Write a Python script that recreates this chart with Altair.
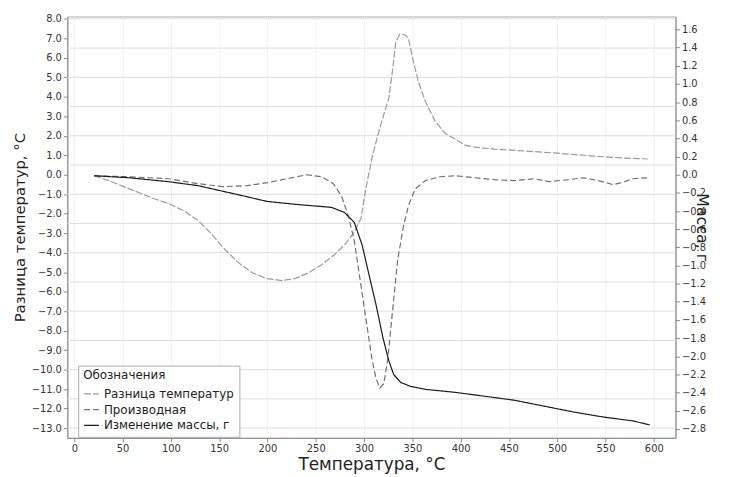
import altair as alt
import pandas as pd

# ---- data ----
names = ["Разница температур", "Производная", "Изменение массы, г"]

T_dta = [20.5, 35.8, 51.2, 66.5, 81.9, 97.3, 112.6, 128, 140.3, 153.6, 168.9, 184.3, 199.7, 215,
         228.3, 242.7, 256, 269.3, 281.6, 289.8, 296.9, 302.0, 309.2, 315.4, 320.5, 325.6, 329.7,
         332.8, 336.9, 339.9, 343, 346.1, 351.2, 356.3, 363.5, 373.7, 384, 394.2, 404.4, 414.7,
         435.1, 465.9, 496.6, 537.5, 568.2, 593.8]
dta = [-0.05, -0.30, -0.61, -0.91, -1.22, -1.47, -1.83, -2.34, -2.94, -3.71, -4.47, -5.03, -5.33, -5.43,
       -5.33, -5.03, -4.62, -4.11, -3.50, -2.94, -2.23, -0.66, 1.07, 2.23, 3.10, 3.91, 5.43,
       6.80, 7.21, 7.21, 7.16, 6.95, 5.79, 4.77, 3.76, 2.74, 2.13, 1.83, 1.52, 1.42,
       1.32, 1.22, 1.12, 0.96, 0.86, 0.81]

T_der = [20.5, 56.3, 97.3, 128, 153.6, 179.2, 199.7, 220.1, 240.6, 256, 268.2, 276.4, 283.6, 289.8,
         295.9, 302, 308.2, 312.3, 316.4, 320.5, 324.6, 329.7, 334.8, 341, 346.1, 353.2, 363.5,
         378.8, 394.2, 414.7, 435.1, 455.6, 476.1, 491.5, 512, 527.3, 542.7, 558, 566.2, 578.5, 593.8]
der = [-0.011, -0.022, -0.044, -0.098, -0.131, -0.12, -0.087, -0.044, 0.0, -0.022, -0.098, -0.229,
       -0.447, -0.719, -1.155, -1.59, -2.03, -2.24, -2.35, -2.30, -2.03, -1.48, -0.937, -0.556,
       -0.338, -0.153, -0.065, -0.022, -0.011, -0.033, -0.054, -0.065, -0.044, -0.076, -0.054,
       -0.033, -0.065, -0.109, -0.087, -0.044, -0.033]

T_mass = [20.5, 56.3, 97.3, 128, 168.9, 199.7, 230.4, 266.2, 279.5, 289.8, 298, 305.1, 312.3, 319.4,
          325.6, 330.7, 337.9, 348.1, 363.5, 394.2, 424.9, 455.6, 486.3, 517.1, 547.8, 578.5, 595.9]
mass = [-0.011, -0.033, -0.076, -0.12, -0.218, -0.294, -0.327, -0.359, -0.414, -0.523, -0.773, -1.10,
        -1.427, -1.787, -2.048, -2.20, -2.288, -2.331, -2.364, -2.397, -2.44, -2.484, -2.549,
        -2.614, -2.669, -2.712, -2.756]

x_ticks = list(range(0, 601, 50))
left_ticks = list(range(8, -14, -1))
right_ticks = [round(1.6 - 0.2 * i, 1) for i in range(23)]
grid_vals = [8 - 1.5 * i for i in range(15)]

left_dom = [-13.5, 8.12]
right_dom = [-2.898, 1.743]
x_dom = [-7.2, 622.5]

rows = []
for i, (t, v) in enumerate(zip(T_dta, dta)):
    rows.append({"T": t, "v": v, "s": names[0], "o": i})
for i, (t, v) in enumerate(zip(T_der, der)):
    rows.append({"T": t, "v": v, "s": names[1], "o": i})
for i, (t, v) in enumerate(zip(T_mass, mass)):
    rows.append({"T": t, "v": v, "s": names[2], "o": i})
df = pd.DataFrame(rows)
gdf = pd.DataFrame({"g": grid_vals})

FONT = "DejaVu Sans"

xenc = alt.X("T:Q", scale=alt.Scale(domain=x_dom, nice=False, zero=False),
             axis=alt.Axis(title="Температура, °С", values=x_ticks, grid=True, gridColor="#f0f0f0",
                           titleFontSize=17, titleFontWeight="normal", labelFontSize=10,
                           titlePadding=3))

legend = alt.Legend(title="Обозначения", orient="none", legendX=11, legendY=353,
                    fillColor="white", strokeColor="#aaaaaa", padding=5,
                    titleFontSize=12, titleFontWeight="normal", labelFontSize=12,
                    titleColor="#222", labelColor="#222", symbolType="stroke",
                    symbolSize=225, rowPadding=1, titlePadding=3, labelLimit=300)

color = alt.Color("s:N", scale=alt.Scale(domain=names, range=["#9a9a9a", "#707070", "#1a1a1a"]),
                  legend=legend)
dash = alt.StrokeDash("s:N", scale=alt.Scale(domain=names, range=[[7, 2], [6, 3], [1, 0]]),
                      legend=legend)
swidth = alt.StrokeWidth("s:N", scale=alt.Scale(domain=names, range=[1.2, 1.2, 2.2]),
                         legend=legend)

grid = alt.Chart(gdf).mark_rule(color="#dddddd", strokeWidth=1).encode(
    y=alt.Y("g:Q", scale=alt.Scale(domain=left_dom, nice=False, zero=False), axis=None)
)

left_layer = alt.Chart(df).transform_filter(alt.datum.s == names[0]).mark_line().encode(
    x=xenc,
    y=alt.Y("v:Q", scale=alt.Scale(domain=left_dom, nice=False, zero=False),
            axis=alt.Axis(orient="left", title="Разница температур, °С", values=left_ticks,
                          format=".1f", grid=False, titleFontSize=15, titleFontWeight="normal",
                          labelFontSize=10, titlePadding=4)),
    color=color, strokeDash=dash, strokeWidth=swidth, order="o:Q"
)

right_layer = alt.Chart(df).transform_filter(alt.datum.s != names[0]).mark_line().encode(
    x=xenc,
    y=alt.Y("v:Q", scale=alt.Scale(domain=right_dom, nice=False, zero=False),
            axis=alt.Axis(orient="right", title="Масса, г", values=right_ticks,
                          format=".1f", grid=False, titleFontSize=16, titleFontWeight="normal",
                          labelFontSize=10, titlePadding=-12)),
    color=color, strokeDash=dash, strokeWidth=swidth, order="o:Q"
)

chart = alt.layer(grid, left_layer, right_layer).resolve_scale(y="independent").properties(
    width=615, height=426,
    autosize=alt.AutoSizeParams(type="none"),
    padding={"left": 60, "top": 6, "right": 47, "bottom": 37},
).configure_view(stroke="#aaaaaa").configure_axis(
    domainColor="#888888", tickColor="#888888", labelColor="#333333", titleColor="#222222",
    labelFont=FONT, titleFont=FONT, tickSize=4
).configure_legend(labelFont=FONT, titleFont=FONT)

chart.save("out.html", embed_options={"renderer": "svg", "actions": False})
